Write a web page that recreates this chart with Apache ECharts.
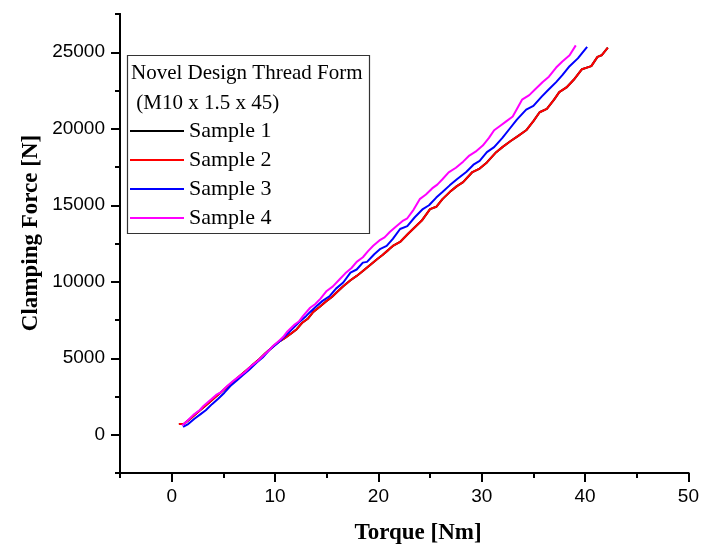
<!DOCTYPE html>
<html>
<head>
<meta charset="utf-8">
<script src="https://cdn.jsdelivr.net/npm/echarts@6/dist/echarts.min.js"></script>
<style>html,body{margin:0;padding:0;background:#fff}#c{width:702px;height:550px}</style>
</head>
<body>
<div id="c"></div>
<script>
const seriesNames = ['Sample 1', 'Sample 2', 'Sample 3', 'Sample 4'];
const legendTitle = ['Novel Design Thread Form', ' (M10 x 1.5 x 45)'];
const xTickLabels = [0, 10, 20, 30, 40, 50];
const yTickLabels = [0, 5000, 10000, 15000, 20000, 25000];
const xMinorTicks = [-5, 5, 15, 25, 35, 45];
const yMinorTicks = [-2500, 2500, 7500, 12500, 17500, 22500, 27500];

// Sample 2 (red)
const sample2Torque = [0.7, 1.2, 1.8, 2.4, 3.0, 3.6, 4.2, 4.8, 5.4, 6.0, 6.7, 7.3, 7.9, 8.5, 9.1, 9.7, 10.3, 10.9, 11.5, 12.1, 12.6, 13.2, 13.7, 14.3, 14.9, 15.5, 16.0, 16.6, 17.3, 17.9, 18.5, 19.2, 19.9, 20.4, 21.0, 21.4, 22.1, 22.9, 23.5, 24.2, 25.0, 25.6, 26.2, 26.9, 27.6, 28.2, 29.1, 29.8, 30.5, 31.4, 32.0, 32.8, 33.5, 34.3, 35.0, 35.6, 36.3, 37.0, 37.5, 38.2, 38.9, 39.7, 40.6, 41.2, 41.6, 42.2];
const sample2Force = [700, 720, 1050, 1400, 1750, 2100, 2450, 2800, 3150, 3500, 3900, 4250, 4600, 4950, 5350, 5700, 6050, 6300, 6590, 6900, 7300, 7600, 8030, 8350, 8700, 9000, 9330, 9700, 10100, 10380, 10700, 11100, 11490, 11750, 12100, 12340, 12600, 13150, 13550, 14000, 14750, 14900, 15400, 15860, 16250, 16510, 17170, 17400, 17800, 18470, 18800, 19200, 19520, 19900, 20500, 21080, 21300, 21900, 22390, 22700, 23200, 23890, 24090, 24700, 24800, 25300];
// Sample 1 (black) lies under Sample 2 in the picture
const sample1Torque = sample2Torque;
const sample1Force = sample2Force;
// Sample 3 (blue)
const sample3Torque = [1.1, 1.6, 2.2, 2.8, 3.3, 3.9, 4.5, 5.1, 5.7, 6.3, 6.9, 7.5, 8.2, 8.8, 9.4, 10.0, 10.6, 11.2, 11.8, 12.4, 13.0, 13.4, 14.0, 14.6, 15.3, 15.9, 16.6, 17.3, 17.9, 18.5, 18.9, 19.6, 20.2, 20.8, 21.4, 22.1, 22.8, 23.5, 24.3, 24.9, 25.6, 26.2, 26.9, 27.6, 28.5, 29.2, 29.8, 30.5, 31.2, 32.0, 32.7, 33.4, 34.3, 35.0, 35.8, 36.5, 37.2, 37.8, 38.5, 39.3, 40.2];
const sample3Force = [520, 700, 1050, 1350, 1600, 2000, 2350, 2750, 3200, 3550, 3900, 4250, 4700, 5050, 5500, 5850, 6200, 6600, 7000, 7400, 7750, 8030, 8400, 8750, 9070, 9550, 9950, 10600, 10800, 11250, 11300, 11800, 12150, 12340, 12800, 13450, 13640, 14200, 14750, 15000, 15500, 15860, 16300, 16700, 17170, 17650, 17900, 18470, 18800, 19400, 20000, 20600, 21250, 21500, 22100, 22580, 23050, 23500, 24090, 24600, 25350];
// Sample 4 (magenta)
const sample4Torque = [1.0, 1.5, 2.1, 2.7, 3.1, 3.8, 4.3, 4.7, 5.4, 6.0, 6.4, 7.1, 7.7, 8.3, 8.9, 9.4, 9.8, 10.4, 10.8, 11.2, 11.9, 12.3, 12.7, 13.4, 13.9, 14.4, 15.0, 15.6, 16.3, 16.8, 17.4, 17.9, 18.5, 19.0, 19.5, 20.1, 20.6, 21.1, 21.6, 22.4, 22.8, 23.4, 24.0, 24.6, 25.2, 25.7, 26.2, 26.8, 27.5, 28.2, 28.8, 29.4, 30.1, 30.7, 31.2, 31.7, 32.4, 33.0, 33.9, 34.6, 35.2, 35.9, 36.5, 37.2, 37.8, 38.5, 39.1];
const sample4Force = [600, 900, 1300, 1600, 1900, 2300, 2600, 2750, 3200, 3550, 3750, 4100, 4500, 4800, 5200, 5500, 5800, 6150, 6400, 6750, 7200, 7400, 7750, 8300, 8550, 8900, 9400, 9700, 10200, 10550, 10900, 11300, 11600, 12000, 12350, 12700, 12900, 13250, 13550, 14000, 14150, 14700, 15400, 15700, 16100, 16350, 16700, 17150, 17450, 17850, 18250, 18500, 18900, 19400, 19900, 20150, 20500, 20800, 21900, 22200, 22600, 23050, 23400, 24000, 24400, 24800, 25450];

const colors = ['#000000', '#ff0000', '#0000ff', '#ff00ff'];
const torques = [sample1Torque, sample2Torque, sample3Torque, sample4Torque];
const forces = [sample1Force, sample2Force, sample3Force, sample4Force];

const sansFont = 'Liberation Sans, Arial, sans-serif';
const serifFont = 'Liberation Serif, Times New Roman, serif';

const chart = echarts.init(document.getElementById('c'), null, {renderer: 'canvas'});

const axisLineStyle = {show: true, onZero: false, lineStyle: {color: '#000', width: 2}};
const plainNum = v => String(v);

const option = {
  animation: false,
  backgroundColor: '#fff',
  grid: {left: 120, right: 12, top: 14, bottom: 77, containLabel: false},
  xAxis: [{
    type: 'value', min: -5, max: 50,
    axisLine: axisLineStyle,
    splitLine: {show: false},
    axisTick: {show: true, inside: false, length: 9, lineStyle: {color: '#000', width: 2}, customValues: xTickLabels},
    axisLabel: {customValues: xTickLabels, formatter: plainNum, fontSize: 19, color: '#000', fontFamily: sansFont, margin: 14}
  }, {
    type: 'value', min: -5, max: 50, position: 'bottom',
    axisLine: axisLineStyle,
    splitLine: {show: false},
    axisTick: {show: true, inside: false, length: 5, lineStyle: {color: '#000', width: 2}, customValues: xMinorTicks},
    axisLabel: {show: false}
  }],
  yAxis: [{
    type: 'value', min: -2500, max: 27500,
    axisLine: axisLineStyle,
    splitLine: {show: false},
    axisTick: {show: true, inside: false, length: 9, lineStyle: {color: '#000', width: 2}, customValues: yTickLabels},
    axisLabel: {customValues: yTickLabels, formatter: plainNum, fontSize: 19, color: '#000', fontFamily: sansFont, margin: 15}
  }, {
    type: 'value', min: -2500, max: 27500, position: 'left',
    axisLine: axisLineStyle,
    splitLine: {show: false},
    axisTick: {show: true, inside: false, length: 5, lineStyle: {color: '#000', width: 2}, customValues: yMinorTicks},
    axisLabel: {show: false}
  }],
  legend: {
    show: true,
    data: seriesNames,
    orient: 'vertical',
    left: 130, top: 120,
    padding: 0,
    itemWidth: 54, itemHeight: 22, itemGap: 7,
    icon: 'path://M0,10 L54,10 L54,12 L0,12 Z',
    selectedMode: false,
    textStyle: {fontSize: 22, color: '#000', fontFamily: serifFont}
  },
  graphic: [
    {type: 'rect', shape: {x: 127.5, y: 55.5, width: 242, height: 178}, style: {fill: 'rgba(0,0,0,0)', stroke: '#333', lineWidth: 1.2}, z: 100},
    {type: 'text', x: 131, y: 73, style: {text: legendTitle[0], font: '21px ' + serifFont, fill: '#000', textVerticalAlign: 'middle'}, z: 100},
    {type: 'text', x: 131, y: 103, style: {text: legendTitle[1], font: '21px ' + serifFont, fill: '#000', textVerticalAlign: 'middle'}, z: 100},
    {type: 'text', x: 418, y: 533, style: {text: 'Torque [Nm]', font: 'bold 23px ' + serifFont, fill: '#000', textAlign: 'center', textVerticalAlign: 'middle'}},
    {type: 'text', x: 31, y: 233, rotation: Math.PI / 2, style: {text: 'Clamping Force [N]', font: 'bold 23px ' + serifFont, fill: '#000', textAlign: 'center', textVerticalAlign: 'middle'}}
  ],
  series: seriesNames.map((name, i) => ({
    name: name,
    type: 'line',
    xAxisIndex: 0,
    yAxisIndex: 0,
    symbol: 'none',
    showSymbol: false,
    smooth: false,
    color: colors[i],
    lineStyle: {color: colors[i], width: 2},
    data: torques[i].map((t, k) => [t, forces[i][k]]),
    z: 2 + i
  }))
};
chart.setOption(option);
</script>
</body>
</html>
